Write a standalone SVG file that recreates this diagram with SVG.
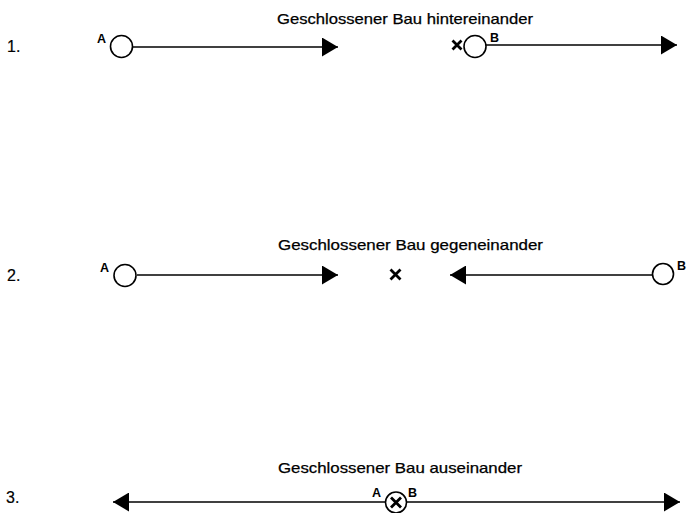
<svg xmlns="http://www.w3.org/2000/svg" width="688" height="513" viewBox="0 0 688 513">
  <style>
    .title { font-family: "Liberation Sans", Arial, sans-serif; font-size: 14.5px; fill: #000; stroke: #000; stroke-width: 0.25; }
    .num { font-family: "Liberation Sans", Arial, sans-serif; font-size: 16px; fill: #000; stroke: #000; stroke-width: 0.2; }
    .lbl { font-family: "Liberation Sans", Arial, sans-serif; font-size: 12.5px; font-weight: bold; fill: #000; }
    .ring { fill: #fff; stroke: #000; stroke-width: 1.6; }
    .line { stroke: #000; stroke-width: 1.5; fill: none; }
    .cross { stroke: #000; stroke-width: 2.8; stroke-linecap: butt; fill: none; }
  </style>
  <defs>
    <marker id="head" markerUnits="userSpaceOnUse" markerWidth="17" markerHeight="19" refX="16" refY="9.5" orient="auto-start-reverse">
      <path d="M0,0 L16,9.5 L0,19 Z" fill="#000"/>
    </marker>
  </defs>
  <rect width="688" height="513" fill="#fff"/>

  <!-- row 1: hintereinander -->
  <text class="num" x="7" y="52">1.</text>
  <text class="title" x="277" y="24" textLength="256" lengthAdjust="spacingAndGlyphs">Geschlossener Bau hintereinander</text>

  <!-- row 2: gegeneinander -->
  <text class="num" x="7" y="281">2.</text>
  <text class="title" x="278" y="250" textLength="265" lengthAdjust="spacingAndGlyphs">Geschlossener Bau gegeneinander</text>

  <!-- row 3: auseinander -->
  <text class="num" x="6" y="503">3.</text>
  <text class="title" x="278" y="473" textLength="244" lengthAdjust="spacingAndGlyphs">Geschlossener Bau auseinander</text>

  <g id="connectors">
    <line class="line" x1="133" y1="47" x2="338" y2="47" marker-end="url(#head)"/>
    <line class="line" x1="486" y1="45" x2="677" y2="45" marker-end="url(#head)"/>
    <line class="line" x1="137" y1="275" x2="338" y2="275" marker-end="url(#head)"/>
    <line class="line" x1="652" y1="275" x2="450" y2="275" marker-end="url(#head)"/>
    <line class="line" x1="113" y1="502" x2="680" y2="502" marker-start="url(#head)" marker-end="url(#head)"/>
  </g>

  <!-- start point A, row 1 -->
  <g id="row1-A">
    <circle class="ring" cx="121.5" cy="46.5" r="11"/>
    <text class="lbl" x="97" y="43">A</text>
  </g>

  <!-- meeting mark and start point B, row 1 -->
  <g id="row1-X">
    <path class="cross" d="M452.5,40.5 L461.5,49.5 M461.5,40.5 L452.5,49.5"/>
  </g>
  <g id="row1-B">
    <circle class="ring" cx="475" cy="46.5" r="11"/>
    <text class="lbl" x="490" y="42">B</text>
  </g>

  <!-- row 2 nodes -->
  <g id="row2-A">
    <circle class="ring" cx="125" cy="275.5" r="11"/>
    <text class="lbl" x="100" y="272">A</text>
  </g>
  <g id="row2-X">
    <path class="cross" d="M390.5,269.5 L400.5,279.5 M400.5,269.5 L390.5,279.5"/>
  </g>
  <g id="row2-B">
    <circle class="ring" cx="663" cy="274" r="10.5"/>
    <text class="lbl" x="677" y="270">B</text>
  </g>

  <!-- row 3: common start of A and B -->
  <g id="row3-AB">
    <circle class="ring" cx="396" cy="502.5" r="10.5"/>
    <path class="cross" d="M391,497.5 L401,507.5 M401,497.5 L391,507.5"/>
    <text class="lbl" x="372" y="497">A</text>
    <text class="lbl" x="408" y="497">B</text>
  </g>
</svg>
